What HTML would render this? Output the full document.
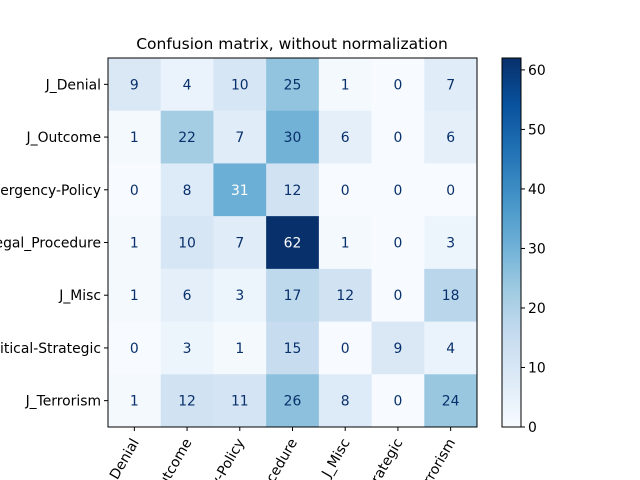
<!DOCTYPE html>
<html><head><meta charset="utf-8"><style>html,body{margin:0;background:#fff;overflow:hidden;width:640px;height:480px}svg{display:block;overflow:hidden}</style></head>
<body>
<svg id="c" width="640" height="480" xmlns="http://www.w3.org/2000/svg" font-family="'DejaVu Sans','Liberation Sans',sans-serif">
<text x="292" y="49" text-anchor="middle" font-size="15.5">Confusion matrix, without normalization</text>
<g id="cells"></g><g id="labels"></g>
<rect x="108" y="58" width="369" height="369" fill="none" stroke="#000" stroke-width="1"/>
<defs><linearGradient id="cb" x1="0" y1="1" x2="0" y2="0">
<stop offset="0" stop-color="#f7fbff"/><stop offset="0.125" stop-color="#deebf7"/><stop offset="0.25" stop-color="#c6dbef"/><stop offset="0.375" stop-color="#9ecae1"/><stop offset="0.5" stop-color="#6baed6"/><stop offset="0.625" stop-color="#4292c6"/><stop offset="0.75" stop-color="#2171b5"/><stop offset="0.875" stop-color="#08519c"/><stop offset="1" stop-color="#08306b"/></linearGradient></defs>
<rect x="502" y="58" width="19" height="369" fill="url(#cb)" stroke="#000" stroke-width="1"/>
<g id="cbticks"></g>
</svg>
<script>
const classes=["J_Denial","J_Outcome","J_Emergency-Policy","J_Legal_Procedure","J_Misc","J_Political-Strategic","J_Terrorism"];
const matrix=[[9,4,10,25,1,0,7],[1,22,7,30,6,0,6],[0,8,31,12,0,0,0],[1,10,7,62,1,0,3],[1,6,3,17,12,0,18],[0,3,1,15,0,9,4],[1,12,11,26,8,0,24]];
const cbTicks=[0,10,20,30,40,50,60];
const NS="http://www.w3.org/2000/svg";
const L=108,T=58,S=369,n=classes.length,cw=S/n;
let vmax=0;matrix.forEach(r=>r.forEach(v=>{if(v>vmax)vmax=v;}));
const stops=["#f7fbff","#deebf7","#c6dbef","#9ecae1","#6baed6","#4292c6","#2171b5","#08519c","#08306b"].map(h=>[1,3,5].map(i=>parseInt(h.substr(i,2),16)));
function cmap(t){t=Math.max(0,Math.min(1,t))*8;const i=Math.min(7,Math.floor(t)),f=t-i;const c=stops[i].map((a,k)=>Math.round(a+(stops[i+1][k]-a)*f));return`rgb(${c})`;}
function el(tag,a,p){const e=document.createElementNS(NS,tag);for(const k in a)e.setAttribute(k,a[k]);p.appendChild(e);return e;}
const cells=document.getElementById('cells'),labels=document.getElementById('labels'),svg=document.getElementById('c');
matrix.forEach((row,i)=>row.forEach((v,j)=>{
 const r=el('rect',{x:L+j*cw,y:T+i*cw,width:cw+0.5,height:cw+0.5,fill:cmap(v/vmax)},cells);
 
 
 const t=el('text',{x:L+(j+.5)*cw,y:T+(i+.5)*cw+5,'text-anchor':'middle','font-size':'13.9',fill:v>=vmax/2?'#fff':'#08306b'},labels);
 t.textContent=v;
 
 
}));
classes.forEach((c,i)=>{
 const y=T+(i+.5)*cw;
 el('line',{x1:L-4,x2:L,y1:y,y2:y,stroke:'#000'},svg);
 const t=el('text',{x:L-7,y:y+5,'text-anchor':'end','font-size':'13.9'},svg);
 t.textContent=c;
 
 
 const x=L+(i+.5)*cw;
 el('line',{x1:x,x2:x,y1:T+S,y2:T+S+4,stroke:'#000'},svg);
 const u=el('text',{x:x+5,y:T+S+15,'text-anchor':'end','font-size':'13.9',transform:`rotate(-60 ${x+5} ${T+S+15})`},svg);
 u.textContent=c;
 
 
});
const cbg=document.getElementById('cbticks');
cbTicks.forEach(v=>{
 const y=427-v/vmax*369;
 el('line',{x1:521,x2:525,y1:y,y2:y,stroke:'#000'},cbg);
 const t=el('text',{x:528,y:y+5,'font-size':'13.9'},cbg);
 t.textContent=v;
 
 
});
</script>
</body></html>
